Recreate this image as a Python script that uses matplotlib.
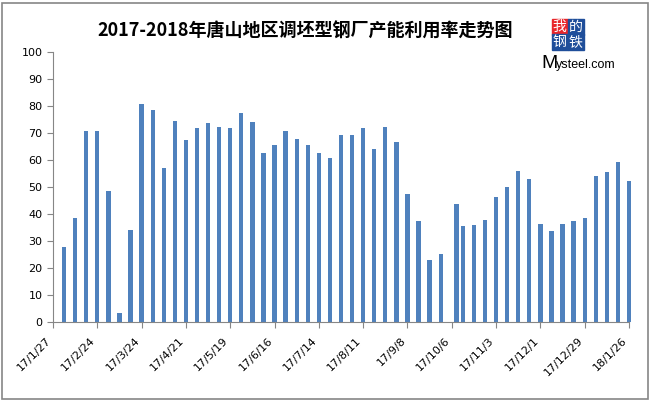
import matplotlib.pyplot as plt
import matplotlib.transforms as mtransforms
import numpy as np
from datetime import date, timedelta
from matplotlib.patches import Rectangle

# weekly readings, 2017/2/3 .. 2018/1/26 (one sample moved to 10/9 after the holiday)
dates = [date(2017, 2, 3) + timedelta(days=7 * i) for i in range(52)]
dates[35] = date(2017, 10, 9)
values = [27.8, 38.6, 70.7, 70.7, 48.6, 3.3, 34.2, 80.7, 78.7, 56.9,
          74.4, 67.3, 71.8, 73.9, 72.4, 72.0, 77.4, 74.0, 62.5, 65.7,
          70.7, 67.7, 65.7, 62.7, 60.6, 69.2, 69.2, 71.8, 64.0, 72.2,
          66.6, 47.3, 37.3, 22.8, 25.0, 43.6, 35.4, 35.8, 37.6, 46.2,
          49.9, 55.8, 52.8, 36.1, 33.5, 36.1, 37.3, 38.4, 54.0, 55.4,
          59.2, 52.1]

tick_dates = [date(2017, 1, 27) + timedelta(days=28 * i) for i in range(14)]
tick_labels = ['%d/%d/%d' % (d.year % 100, d.month, d.day) for d in tick_dates]

title = '2017-2018年唐山地区调坯型钢厂产能利用率走势图'

plt.rcParams['font.family'] = ['DejaVu Sans']

fig = plt.figure(figsize=(6.51, 4.01), dpi=100)
ax = fig.add_axes([53 / 651, 1 - 321.7 / 401, (629 - 53) / 651, (321.7 - 52.3) / 401])

bars = ax.bar(dates, values, width=2.7, color='#4F81BD', zorder=2)
for b in bars:
    b.set_clip_on(False)

ax.set_xlim(tick_dates[0], tick_dates[-1])
ax.set_ylim(0, 100)
ax.set_yticks(np.arange(0, 101, 10))
ax.set_xticks(tick_dates)
ax.set_xticklabels(tick_labels, rotation=45, ha='right', va='top')
shift = mtransforms.ScaledTranslation(2 / 100, 0, fig.dpi_scale_trans)
for lab in ax.get_xticklabels():
    lab.set_transform(lab.get_transform() + shift)

for s in ['top', 'right']:
    ax.spines[s].set_visible(False)
for s in ['left', 'bottom']:
    ax.spines[s].set_color('#868686')
ax.tick_params(axis='both', colors='#868686', labelcolor='black', labelsize=8,
               length=4, direction='out')
ax.tick_params(axis='x', pad=6)

fig.text(0.469, 1 - 31 / 401, title, ha='center', va='center', fontsize=13,
         fontweight='bold', family=['Noto Sans CJK SC', 'DejaVu Sans'])

# Mysteel logo
logo = [('我', 552, 19, '#E8262B'), ('的', 568, 19, '#1F4E9A'),
        ('钢', 552, 34, '#1F4E9A'), ('铁', 568, 34, '#1F4E9A')]
for ch, x, y, c in logo:
    fig.patches.append(Rectangle((x / 651, 1 - (y + 15.5) / 401), 15.5 / 651, 15.5 / 401,
                                 transform=fig.transFigure, color=c, zorder=1))
    fig.text((x + 7.75) / 651, 1 - (y + 7.75) / 401, ch, ha='center', va='center',
             color='white', fontsize=10, family=['Noto Sans CJK SC'], zorder=2)
fig.text(541 / 651, 1 - 68 / 401, 'M', ha='left', va='baseline', fontsize=14,
         family='Liberation Sans', color='black')
fig.text(556 / 651, 1 - 68 / 401, 'ysteel.com', ha='left', va='baseline', fontsize=9,
         family='Liberation Sans', color='black')

# outer frame
fig.patches.append(Rectangle((2 / 651, 2 / 401), 646 / 651, 396 / 401, transform=fig.transFigure,
                             fill=False, edgecolor='#868686', linewidth=1.2))

fig.savefig('out.png', dpi=100)
